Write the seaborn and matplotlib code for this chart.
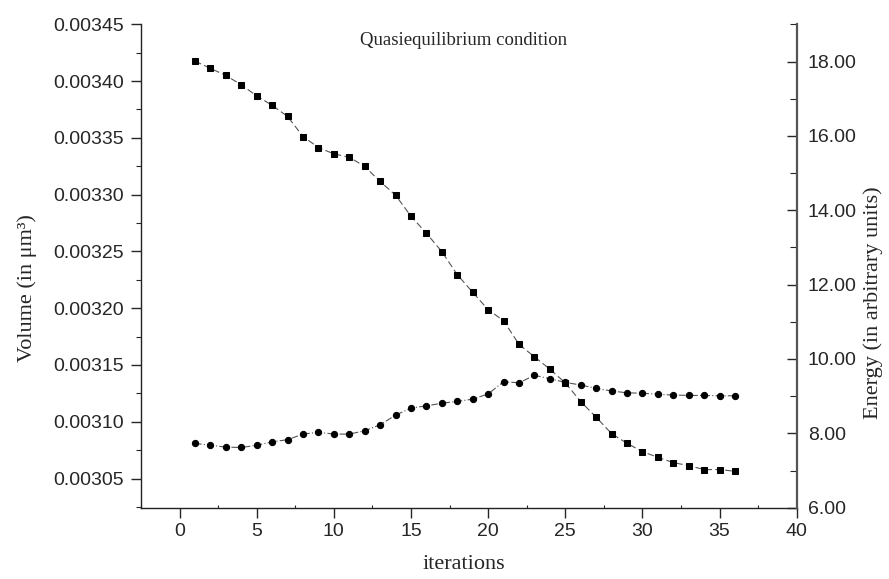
import matplotlib
matplotlib.use("Agg")
import matplotlib.pyplot as plt
import seaborn as sns
from matplotlib.ticker import MultipleLocator, FormatStrFormatter

# iterations 1..36
iterations = list(range(1, 37))

# volume (left axis, squares)
volume = [
    0.0034176, 0.0034112, 0.0034050, 0.0033967, 0.0033870, 0.0033786,
    0.0033689, 0.0033512, 0.0033415, 0.0033359, 0.0033330, 0.0033248,
    0.0033116, 0.0032995, 0.0032810, 0.0032660, 0.0032498, 0.0032295,
    0.0032140, 0.0031987, 0.0031890, 0.0031681, 0.0031572, 0.0031463,
    0.0031343, 0.0031178, 0.0031040, 0.0030896, 0.0030810, 0.0030737,
    0.0030687, 0.0030640, 0.0030614, 0.0030579, 0.0030579, 0.0030564,
]

# energy (right axis, circles)
energy = [
    7.73, 7.68, 7.63, 7.62, 7.68, 7.77, 7.83, 7.98, 8.03, 7.98, 7.98, 8.07,
    8.23, 8.49, 8.68, 8.74, 8.81, 8.86, 8.92, 9.06, 9.39, 9.36, 9.56, 9.47,
    9.37, 9.30, 9.21, 9.14, 9.09, 9.08, 9.05, 9.03, 9.02, 9.02, 9.01, 9.01,
]

sns.set_style("ticks")
sans = ["Liberation Sans", "DejaVu Sans"]
serif = ["Liberation Serif", "DejaVu Serif"]

fig = plt.figure(figsize=(8.89, 5.79), dpi=100)
ax = fig.add_axes([0.1586, 0.1231, 0.7376, 0.8349])
ax2 = ax.twinx()

sns.lineplot(x=iterations, y=volume, ax=ax, color="#555555", linewidth=0.8,
             linestyle=(0, (6, 3)), marker="s", markersize=4,
             markerfacecolor="black", markeredgecolor="black")
sns.lineplot(x=iterations, y=energy, ax=ax2, color="#555555", linewidth=0.8,
             linestyle=(0, (6, 2, 1, 2)), marker="o", markersize=4.5,
             markerfacecolor="black", markeredgecolor="black")

ax.set_xlim(-2.5, 40)
ax.set_ylim(0.0030243, 0.00345)
ax2.set_ylim(6, 19)

ax.xaxis.set_major_locator(MultipleLocator(5))
ax.xaxis.set_minor_locator(MultipleLocator(2.5))
ax.yaxis.set_major_locator(MultipleLocator(0.00005))
ax.yaxis.set_minor_locator(MultipleLocator(0.000025))
ax.yaxis.set_major_formatter(FormatStrFormatter("%.5f"))
ax2.yaxis.set_major_locator(MultipleLocator(2))
ax2.yaxis.set_minor_locator(MultipleLocator(1))
ax2.yaxis.set_major_formatter(FormatStrFormatter("%.2f"))

ax.tick_params(axis="x", which="major", direction="out", length=7, width=1, pad=4)
ax.tick_params(axis="x", which="minor", direction="in", length=2.5, width=0.8)
ax.tick_params(axis="y", which="major", direction="out", length=7, width=1, pad=5)
ax.tick_params(axis="y", which="minor", direction="out", length=3.5, width=0.8)
ax2.tick_params(axis="y", which="major", direction="in", length=7.5, width=1, pad=8)
ax2.tick_params(axis="y", which="minor", direction="in", length=5, width=0.8)

for a in (ax, ax2):
    for lab in a.get_xticklabels() + a.get_yticklabels():
        lab.set_family(sans)
        lab.set_fontsize(14)
    a.spines["top"].set_visible(False)
    for s in ("left", "right", "bottom"):
        a.spines[s].set_linewidth(1.0)
        a.spines[s].set_color("#222222")
ax.spines["right"].set_visible(False)
ax2.spines["left"].set_visible(False)
ax2.spines["bottom"].set_visible(False)
ax2.spines["right"].set_linewidth(1.6)
ax2.spines["right"].set_color("#555555")

ax.set_xlabel("iterations", family=serif, fontsize=16)
ax.set_ylabel("Volume (in μm³)", family=serif, fontsize=16)
ax2.set_ylabel("Energy (in arbitrary units)", family=serif, fontsize=16)
ax.xaxis.set_label_coords(0.4926, -0.098)
ax.yaxis.set_label_coords(-0.158, 0.4545)
ax2.yaxis.set_label_coords(1.102, 0.4235)

ax.text(0.4926, 0.9675, "Quasiequilibrium condition", transform=ax.transAxes,
        ha="center", va="center", family=serif, fontsize=13.5)

fig.savefig("out.png", dpi=100)
